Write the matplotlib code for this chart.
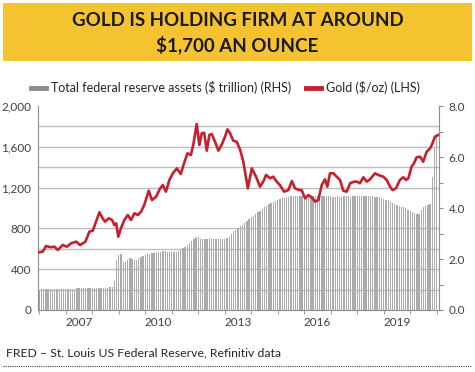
import matplotlib.pyplot as plt
from matplotlib.patches import Rectangle
from matplotlib.lines import Line2D
import numpy as np

# --- DATA ---
# Gold price ($/oz) (decimal year, value)
gold_years = [2005.48, 2005.63, 2005.75, 2005.94, 2006.07, 2006.20, 2006.38, 2006.54,
              2006.70, 2006.89, 2007.04, 2007.24, 2007.39, 2007.52, 2007.64, 2007.77,
              2007.89, 2007.98, 2008.12, 2008.25, 2008.33, 2008.40, 2008.48, 2008.58,
              2008.71, 2008.84, 2008.96, 2009.09, 2009.22, 2009.34, 2009.46, 2009.63,
              2009.75, 2009.91, 2010.06, 2010.16, 2010.28, 2010.41, 2010.54, 2010.69,
              2010.84, 2010.94, 2011.09, 2011.22, 2011.31, 2011.44, 2011.54, 2011.63,
              2011.72, 2011.82, 2011.92, 2012.01, 2012.13, 2012.26, 2012.38, 2012.51,
              2012.60, 2012.70, 2012.82, 2012.95, 2013.08, 2013.20, 2013.37, 2013.52,
              2013.68, 2013.83, 2013.95, 2014.06, 2014.21, 2014.33, 2014.46, 2014.58,
              2014.74, 2014.90, 2015.03, 2015.15, 2015.31, 2015.40, 2015.53, 2015.65,
              2015.78, 2015.91, 2016.03, 2016.16, 2016.28, 2016.37, 2016.47, 2016.60,
              2016.72, 2016.85, 2016.97, 2017.10, 2017.23, 2017.38, 2017.50, 2017.60,
              2017.73, 2017.86, 2017.98, 2018.17, 2018.29, 2018.48, 2018.61, 2018.74,
              2018.83, 2018.96, 2019.11, 2019.24, 2019.34, 2019.43, 2019.55, 2019.64,
              2019.74, 2019.87, 2019.99, 2020.12, 2020.25, 2020.34, 2020.43, 2020.56]
gold_prices = [565, 572, 627, 615, 621, 588, 637, 621,
               654, 670, 637, 670, 768, 778, 866, 958,
               899, 866, 899, 882, 833, 850, 719, 801,
               882, 931, 882, 948, 931, 964, 1029, 1170,
               1078, 1111, 1193, 1225, 1160, 1275, 1340, 1389,
               1333, 1421, 1536, 1520, 1618, 1824, 1618, 1732,
               1738, 1562, 1716, 1725, 1650, 1562, 1618, 1699,
               1771, 1732, 1660, 1650, 1569, 1454, 1193, 1389,
               1307, 1209, 1258, 1324, 1291, 1307, 1258, 1225,
               1160, 1176, 1265, 1193, 1176, 1176, 1095, 1127,
               1105, 1062, 1078, 1225, 1281, 1209, 1340, 1340,
               1307, 1275, 1170, 1160, 1242, 1258, 1258, 1242,
               1301, 1258, 1281, 1340, 1324, 1307, 1275, 1209,
               1176, 1193, 1275, 1301, 1275, 1291, 1405, 1438,
               1497, 1503, 1454, 1552, 1585, 1634, 1699, 1716]

# Total federal reserve assets ($ trillion), monthly from mid-2005
assets = [0.80, 0.81, 0.81, 0.81, 0.82, 0.82, 0.82, 0.82, 0.82, 0.83, 0.83,
          0.83, 0.83, 0.84, 0.84, 0.84, 0.84, 0.85, 0.85, 0.85, 0.85, 0.85,
          0.85, 0.86, 0.86, 0.86, 0.86, 0.86, 0.87, 0.87, 0.88, 0.88, 0.89,
          0.92, 1.12,
          1.95, 2.15, 2.20, 1.88, 1.90, 1.98, 2.03, 2.00, 1.97, 1.96,
          2.03, 2.08, 2.12, 2.15, 2.18, 2.20, 2.22, 2.22, 2.25, 2.26,
          2.28, 2.30, 2.30, 2.29, 2.28, 2.28, 2.27, 2.27,
          2.30, 2.35, 2.42, 2.48, 2.55, 2.62, 2.70, 2.80, 2.86, 2.86,
          2.80, 2.80, 2.78, 2.80, 2.82, 2.80, 2.78, 2.77, 2.78, 2.80,
          2.80, 2.79, 2.82, 2.88, 2.98, 3.08, 3.15, 3.22, 3.28, 3.35, 3.40,
          3.48, 3.56, 3.64, 3.70, 3.76, 3.83, 3.90, 3.96, 4.03, 4.08, 4.14,
          4.19, 4.23, 4.27, 4.31, 4.35, 4.38, 4.41, 4.43, 4.45, 4.47,
          4.48, 4.49, 4.48, 4.47, 4.48, 4.49, 4.49, 4.48, 4.47, 4.47, 4.46, 4.48,
          4.48, 4.47, 4.46, 4.46, 4.47, 4.46, 4.45, 4.45, 4.46, 4.45, 4.45, 4.46,
          4.47, 4.46, 4.45, 4.46, 4.47, 4.47, 4.46, 4.46, 4.47, 4.47, 4.46, 4.46,
          4.46, 4.45, 4.44, 4.42, 4.40, 4.37, 4.33, 4.30, 4.25, 4.20, 4.15,
          4.12, 4.08, 4.05, 4.02, 3.99, 3.94, 3.89, 3.84, 3.80, 3.77,
          3.75, 3.92, 4.02, 4.08, 4.12, 4.15, 5.20, 6.40, 6.85]
asset_years = 2005.5 + np.arange(len(assets)) / 12

year_labels = [2007, 2010, 2013, 2016, 2019]

# --- STYLE ---
plt.rcParams['font.family'] = ['Lato', 'DejaVu Sans']
TXT = '#404040'
GRID = '#BDBDBD'
RED = '#C6202E'
BAR = '#ABABAB'

fig = plt.figure(figsize=(4.75, 3.72), dpi=100)
fig.patch.set_facecolor('white')

# title banner
fig.patches.append(Rectangle((3 / 475, 1 - 61 / 372), 469 / 475, 58 / 372,
                             transform=fig.transFigure, facecolor='#F5C330',
                             edgecolor='none', zorder=0))
fig.text(0.5, 1 - 21 / 372, 'GOLD IS HOLDING FIRM AT AROUND', ha='center', va='center',
         fontsize=13.5, fontweight='bold', color='#1A1A1A')
fig.text(0.5, 1 - 45 / 372, '$1,700 AN OUNCE', ha='center', va='center',
         fontsize=13.5, fontweight='bold', color='#1A1A1A')

# --- AXES ---
ax = fig.add_axes([38 / 475, 1 - 310 / 372, 401 / 475, 204 / 372])
axg = ax.twinx()

# fed assets bars on the right-hand scale
ax.bar(asset_years, assets, width=0.05, color=BAR, linewidth=0, zorder=2)
ax.set_ylim(0, 8)
ax.set_xlim(2005.45, 2020.585)
ax.yaxis.tick_right()
ax.yaxis.set_label_position('right')
ax.set_yticks(np.arange(0, 8.1, 1.0))
ax.set_yticklabels(['0.0', '', '2.0', '', '4.0', '', '6.0', '', '8.0'])
ax.set_yticks(np.arange(0, 8.01, 0.8), minor=True)
ax.grid(axis='y', which='minor', color=GRID, linewidth=1.0, zorder=0)
ax.set_axisbelow(True)
ax.tick_params(axis='y', which='major', left=False, right=True, labelleft=False,
               labelright=True, length=3, color='#8C8C8C', labelsize=8.5,
               labelcolor=TXT, pad=4)
ax.tick_params(axis='y', which='minor', length=0)

ax.set_xticks(year_labels)
ax.set_xticklabels([str(y) for y in year_labels])
ax.set_xticks(np.arange(2005.5, 2020.6, 1.0), minor=True)
ax.tick_params(axis='x', which='major', length=0, labelsize=8.5, labelcolor=TXT, pad=5)
ax.tick_params(axis='x', which='minor', length=3, color='#8C8C8C')

ax.spines['top'].set_visible(False)
for side in ['left', 'right', 'bottom']:
    ax.spines[side].set_color('#8C8C8C')
    ax.spines[side].set_linewidth(0.8)

# gold line on the left-hand scale
axg.plot(gold_years, gold_prices, color=RED, linewidth=1.9, solid_joinstyle='round', zorder=3)
axg.set_ylim(0, 2000)
axg.yaxis.tick_left()
axg.yaxis.set_label_position('left')
axg.set_yticks(np.arange(0, 2001, 400))
axg.set_yticklabels([f'{v:,}' for v in range(0, 2001, 400)])
axg.tick_params(axis='y', left=True, right=False, labelleft=True, labelright=False,
                length=0, labelsize=8.5, labelcolor=TXT, pad=5)
for side in ['top', 'right', 'left', 'bottom']:
    axg.spines[side].set_visible(False)

# legend
handles = [Line2D([], [], color='#8C8C8C', linewidth=3.5),
           Line2D([], [], color=RED, linewidth=3.5)]
fig.legend(handles, ['Total federal reserve assets ($ trillion) (RHS)', 'Gold ($/oz) (LHS)'],
           loc='center', bbox_to_anchor=(0.475, 1 - 88 / 372), ncol=2, frameon=False,
           fontsize=9, handlelength=1.2, handletextpad=0.4, columnspacing=1.2,
           labelcolor='#262626')

# source note and dotted rule
fig.text(6 / 475, 1 - 353 / 372, 'FRED \u2013 St. Louis US Federal Reserve, Refinitiv data',
         ha='left', va='center', fontsize=8.8, color='#262626')
fig.lines.append(Line2D([3 / 475, 472 / 475], [1 - 366 / 372, 1 - 366 / 372],
                        transform=fig.transFigure, color='#404040', linewidth=0.8,
                        linestyle=(0, (1, 1))))

fig.savefig('out.png', dpi=100, facecolor='white')
